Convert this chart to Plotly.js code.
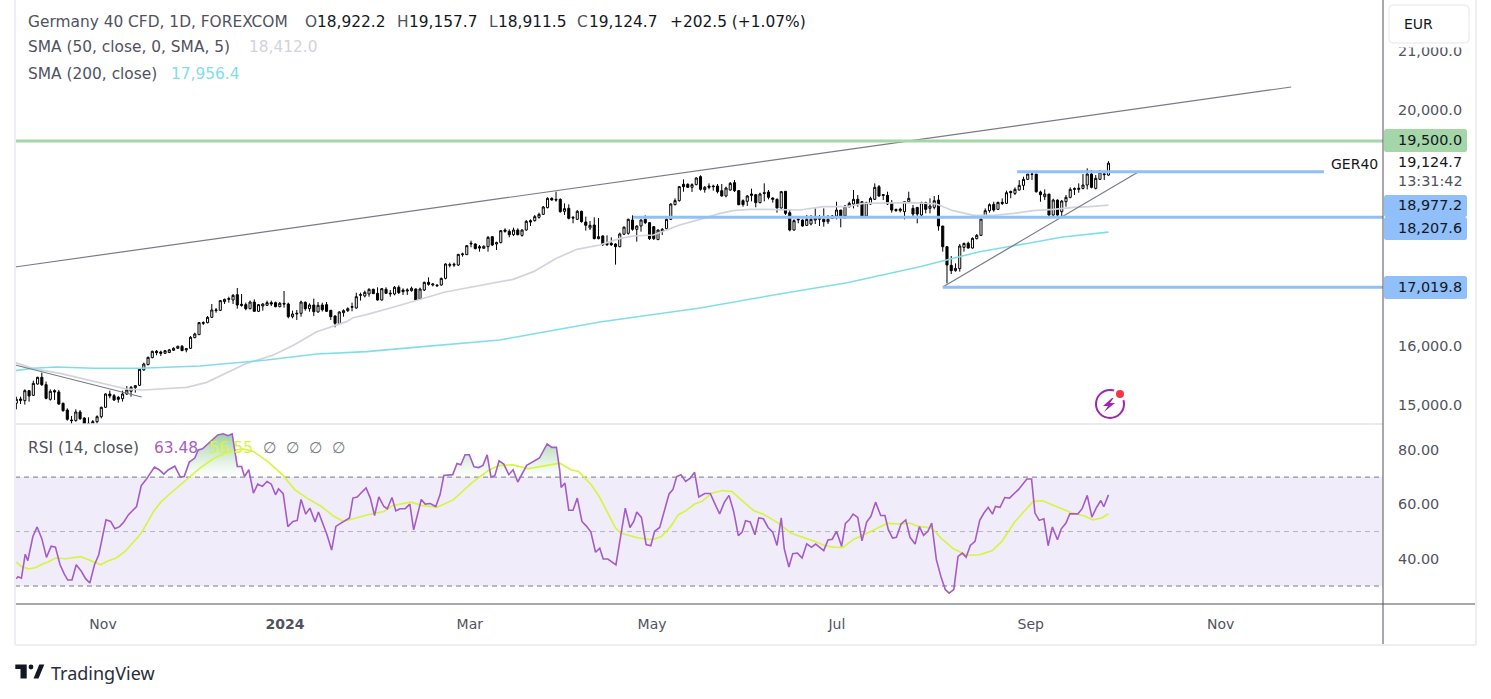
<!DOCTYPE html>
<html><head><meta charset="utf-8">
<script src="https://cdn.plot.ly/plotly-3.0.1.min.js"></script>
<style>html,body{margin:0;padding:0;background:#fff}#c{width:1491px;height:699px}</style>
</head><body><div id="c"></div>
<script>
// ---- candles, one entry per trading bar ----
const dirs = ("UDUDUUDDUD DDDDUDDDUU UUDDDUUUUU UUUDDU U UUDUUUUUUU UUUUUDDDUD UUUDDUDDUU UDUDU D DDDUUUUUU UUDDUDUUD " +
 "DUUDUUDUDU UUUUUUU DDUUDUUDDUDUUDUUUUDDDUDDUDDUDUDDDDU U UDUUDDDUUUUUUDDUUDUDDDDUUDDDUDDUDDDDUDDUU " +
 "DUUUUDUUUDUUUDDUUUDDDDD U UUDDUDUUDDDDUUUDUUUUUDUDUDUUUUUDDUDUDUUUUUUUDUUUU").replace(/\s/g,"");
const highs = [15167,15167,15291,15280,15438,15505,15573,15421,15291,15291,
15280,15065,14969,14839,14952,14940,14816,14816,14771,14850,
14997,15223,15268,15212,15178,15268,15347,15347,15364,15647,
15743,15844,15946,15958,15946,15958,15975,16003,16031,16042,
15991,16195,16251,16432,16443,16534,16737,16669,16805,16828,
16861,16907,17008,16907,16760,16794,16816,16737,16749,16794,
16794,16777,16771,16958,16760,16624,16636,16794,16782,16749,
16828,16771,16760,16771,16636,16545,16613,16647,16681,16760,
16929,16929,16963,17003,16997,17020,17008,17020,16975,17042,17053,
17003,17003,17031,17003,17014,17116,17189,17087,17070,17183,
17427,17438,17438,17585,17607,17737,17811,17766,17737,17732,
17890,17890,17794,17991,18020,18003,18031,18020,18003,18161,
18172,18246,18285,18398,18545,18545,18641,18528,18444,18427,
18229,18330,18319,18218,18144,18206,18195,17901,17901,17867,
17766,17946,18050,
18184,18240,18071,18172,18240,18127,18059,18003,18025,18189,
18444,18528,18737,18850,18782,18782,18884,18918,18737,18782,
18760,18771,18771,18726,18805,18839,18669,18511,18585,18692,
18602,18624,18782,18669,18545,18528,18653,18653,18342,18172,18206,
18172,18245,18245,18358,18245,18358,18245,18245,18471,18330,
18415,18471,18669,18584,18471,18471,18556,18782,18754,18601,
18641,18499,18353,18370,18471,18641,18415,18375,18471,18471,
18528,18567,18584,18059,17720,17550,17426,17754,17776,17793,
17867,17923,18189,18358,18443,18471,18471,18528,18658,18658,
18714,18838,18895,18940,18963,18940,18658,18680,18601,18522,
18511,18499,18584,18714,18714,18782,18940,19036,19008,18923,
19008,18997,19157.7];
const tops = [15121,15127,15268,15268,15392,15494,15494,15370,15257,15268,
15246,15054,14940,14771,14907,14907,14805,14715,14743,14827,
14986,15212,15212,15183,15155,15212,15280,15325,15353,15630,
15720,15833,15935,15935,15924,15946,15960,15986,16020,16020,
15980,16172,16229,16421,16421,16511,16636,16636,16794,16816,
16828,16884,16895,16732,16726,16771,16771,16726,16737,16760,
16760,16760,16749,16749,16737,16568,16579,16771,16765,16720,
16720,16715,16720,16726,16630,16534,16602,16624,16658,16692,
16861,16895,16935,16986,16986,16918,16997,16986,16918,17020,17020,
16974,16974,17003,16991,16991,17104,17104,17076,17059,17172,
17415,17404,17410,17579,17585,17726,17766,17754,17709,17715,
17867,17878,17777,17980,17991,17969,17991,17991,17991,18138,
18150,18218,18257,18381,18528,18528,18511,18511,18353,18359,
18206,18308,18308,18127,18071,18076,17878,17890,17766,17766,
17754,17924,18040,
18172,18161,18059,18161,18172,18116,18048,17991,18003,18172,
18432,18489,18726,18766,18766,18760,18873,18896,18715,18737,
18737,18737,18658,18703,18782,18794,18658,18489,18568,18602,
18590,18602,18624,18636,18534,18511,18641,18647,18285,18150,18172,
18160,18172,18172,18189,18189,18172,18172,18228,18330,18330,
18398,18443,18511,18511,18471,18454,18528,18714,18725,18590,
18579,18454,18341,18345,18471,18528,18358,18375,18454,18454,
18398,18488,18499,18059,17708,17392,17341,17720,17765,17765,
17850,17901,18177,18319,18420,18426,18460,18460,18624,18646,
18680,18748,18850,18940,18940,18940,18635,18601,18601,18499,
18499,18482,18545,18680,18692,18697,18754,18940,18940,18867,
18974,18940,19124.7];
const bottoms = [15054,15104,15099,15178,15189,15381,15370,15138,15121,15246,
15042,14929,14782,14760,14760,14794,14703,14698,14698,14743,
14827,14986,15178,15110,15121,15133,15212,15257,15319,15359,
15619,15709,15828,15912,15901,15901,15915,15952,15986,15946,
15958,15986,16167,16217,16409,16421,16511,16624,16630,16777,
16816,16805,16720,16715,16658,16658,16613,16613,16703,16715,
16737,16692,16692,16737,16522,16522,16568,16579,16658,16658,
16607,16602,16640,16613,16522,16409,16404,16590,16624,16681,
16669,16884,16873,16907,16912,16805,16805,16918,16907,16907,16929,
16946,16957,16963,16805,16822,16974,17070,17059,17048,17059,
17172,17393,17395,17398,17573,17573,17754,17675,17686,17681,
17709,17737,17754,17777,17969,17912,17912,17912,17901,17991,
18127,18150,18206,18257,18370,18500,18500,18302,18308,18189,
18195,18172,18133,18071,18025,17845,17845,17743,17743,17743,
17709,17709,17920,
17935,18003,18003,18059,18116,17845,17845,17828,17969,18014,
18172,18421,18489,18726,18715,18715,18760,18681,18675,18715,
18726,18641,18568,18568,18669,18658,18421,18421,18477,18579,
18455,18455,18613,18545,18511,18364,18364,18274,17991,17991,18161,
18059,18070,18093,18160,18172,18132,18132,18189,18228,18228,
18228,18386,18432,18432,18228,18228,18432,18511,18567,18579,
18432,18330,18319,18320,18302,18471,18262,18262,18245,18341,
18358,18375,18059,17708,17398,17302,17302,17336,17697,17686,
17686,17844,17901,18228,18319,18330,18341,18443,18443,18624,
18612,18669,18748,18850,18935,18641,18590,18556,18245,18245,
18245,18302,18471,18545,18680,18680,18697,18754,18714,18697,
18850,18929,18922.2];
const lows = [14952,15042,15031,15082,15178,15370,15347,15121,15099,15110,
15025,14912,14760,14698,14743,14771,14690,14660,14660,14686,
14799,14974,15138,15093,15065,15082,15195,15167,15234,15347,
15607,15698,15816,15867,15856,15890,15905,15941,15975,15941,
15918,15975,16155,16212,16381,16409,16500,16590,16618,16737,
16760,16737,16658,16692,16630,16647,16602,16602,16624,16703,
16703,16681,16681,16675,16494,16494,16466,16522,16624,16607,
16534,16590,16610,16602,16466,16342,16398,16522,16602,16613,
16658,16794,16850,16861,16907,16794,16794,16907,16861,16884,16907,
16890,16890,16946,16788,16805,16957,17048,17036,17025,17048,
17155,17359,17365,17381,17540,17568,17698,17664,17624,17675,
17624,17720,17652,17766,17946,17867,17890,17901,17878,17980,
18059,18133,18184,18246,18359,18489,18472,18285,18246,18172,
18105,18161,18116,17980,17991,17833,17833,17720,17720,17720,
17404,17698,17905,
17912,17980,17794,17963,18093,17822,17822,17822,17907,18003,
18161,18410,18472,18641,18703,18636,18749,18658,18624,18681,
18658,18613,18557,18545,18658,18636,18410,18387,18398,18477,
18376,18444,18477,18511,18455,18285,18353,18246,17969,17980,18105,
18048,18059,18070,18093,18059,18048,18093,18183,18172,18036,
18183,18375,18358,18386,18217,18217,18415,18500,18556,18499,
18415,18285,18302,18290,18172,18454,18217,18104,18217,18273,
18273,18341,17980,17624,17087,17245,17285,17285,17624,17675,
17675,17833,17889,18217,18285,18302,18330,18415,18432,18528,
18584,18658,18669,18838,18838,18624,18471,18499,18228,18217,
18217,18228,18386,18528,18584,18624,18680,18680,18697,18680,
18838,18838,18911.5];
const barDays = highs.map((_,i)=>i);
if (dirs.length!==highs.length||tops.length!==highs.length||bottoms.length!==highs.length||lows.length!==highs.length)
  throw new Error("len "+[dirs.length,highs.length,tops.length,bottoms.length,lows.length]);
const opens  = tops.map((t,i)=>dirs[i]==="U"?bottoms[i]:t);
const closes = tops.map((t,i)=>dirs[i]==="U"?t:bottoms[i]);

// ---- moving averages (bar number, price) ----
const sma50Days = [-0.3,4,10.3,15.7,21.3,25.9,29.9,35.3,40.1,44.8,49.5,54.2,60.5,65.2,70.7,77.7,79.2,82.4,90.3,100.9,116.9,121.7,127.1,131.9,137.3,142.1,145.2,149.9,153,156.1,160.9,165.6,168.7,172.6,176.5,184.4,189.9,195.4,199.3,204.8,211.1,216.5,220.4,225.3,230,234.7,239.3,244,248.8,252.6,257];
const sma50Vals = [15743,15641,15562,15472,15376,15296,15279,15302,15325,15409,15573,15731,15873,16037,16268,16438,16505,16556,16715,16941,17155,17285,17511,17664,17737,17850,17890,17907,17991,18076,18172,18274,18319,18342,18342,18330,18386,18386,18443,18454,18454,18432,18319,18240,18240,18273,18319,18341,18375,18386,18412];
const sma200Days = [-0.3,4,9.5,18.2,29.1,43.2,51.1,58.9,70.7,82.4,90.3,113.8,137.3,160.9,179.6,195.5,212.6,218,226.7,238.5,246.2,257];
const sma200Vals = [15607,15647,15669,15647,15647,15686,15737,15788,15890,15929,15980,16127,16432,16670,16907,17098,17370,17471,17624,17771,17873,17956];

// ---- drawn lines on the price pane ----
const longTrendDays=[-0.3,300], longTrendVals=[17364,20415];
const riseTrendDays=[218,264.4], riseTrendVals=[17025,18992];
const fallTrendDays=[-0.3,29.5], fallTrendVals=[15703,15161];
const resistance=19500, level1=18977.2, level2=18207.6, level3=17019.8;
const level1Days=[235.5,307.7], level2Days=[145.1,321.6], level3Days=[218,321.6], resistanceDays=[-0.31,321.6];

// ---- RSI ----
const rsiDays=[0,0.4,1.2,2.1,2.7,3.9,4.9,6,7.1,8.2,9.2,10.3,11.3,12.1,13.1,14.1,15.3,16.3,17.3,18.4,19.4,21.1,22.2,23.2,24.3,25.3,26.4,28.3,29.4,30.5,32.5,33.6,34.7,35.8,37.3,38.6,39.5,40.7,42,42.8,43.8,44.9,47.4,48.7,49.8,50.8,52,53,53.7,54.7,55.8,56.8,57.9,59,60,61,61.7,62.8,63.9,65.1,66.1,67,68.1,69.1,70.3,71.1,73.1,74.2,75.2,76.4,77.3,78.4,79.2,80.2,82.3,83.3,84.3,85.3,86.5,87.3,88.4,89.3,90.3,91.5,92.6,93.5,95.3,96.2,97.4,98.7,99.7,100.6,102.7,103.7,104.6,105.6,106.6,107.7,108.8,109.8,110.8,111.7,112.6,113.6,114.7,115.9,116.9,118,120.1,122.2,123.1,124.9,126,127.1,
127.9,128.2,129.1,130,131,132,133.1,134.2,135.2,136.3,137.3,138.1,139.2,141.1,142.3,143.3,144.4,145.3,146,147.1,148.2,149.3,150.2,151.4,153.6,154.5,155.4,156.4,157.5,158.6,159.6,160.6,162,163.3,164.5,165.5,166.6,167.7,168.8,169.9,170.8,171.6,172.7,173.8,174.7,175.8,176.9,178,179,180,180.7,181.8,182.7,183.8,184.9,186,187.1,188.1,190,191,192,193,194.2,195.1,196,196.9,198,199,200.1,201.1,202.2,203.4,204.4,205.2,206.2,207.1,208.2,209.3,210.3,211.5,212.5,213.5,214.5,215.4,216.5,217.6,218.6,219.5,220.6,221.6,222.6,223.5,224.5,225.6,226.7,227.7,228.7,229.7,230.4,231.5,232.6,233.7,235.8,237.8,238.9,239.7,240.7,241.8,242.8,243.8,245,245.9,247,247.9,249.8,250.8,252,253.1,254.1,255.2,255.9,257];
const rsiVals=[32.7,33.4,32.9,41.7,39.3,48.2,51.7,47.4,40.5,44.6,44.3,37.8,34.4,32.2,32.2,37.8,35.4,32.7,31.1,37.8,41.5,54.3,53.7,51,51.8,53.5,56.2,59.2,66.9,69,73.7,72.7,71.1,72.7,74,70,70.2,75.5,77,80,80.4,81.9,85.5,85.9,85.2,85.9,73.9,73.9,70.2,72.7,64.1,67.4,66.6,68.4,67.4,63.5,65.7,63.9,51.8,53.7,54.1,61.8,56.4,58.6,53.5,57.2,48.8,43.2,51.9,53.1,54,55,62.3,62.7,66,62.3,55.9,62.7,59.2,58.4,62.5,57.6,58.4,58.4,60.1,50.6,61.8,60.1,60.3,59.2,63.5,70.6,70.9,75,74.5,78.2,78.2,73.8,73.5,74.3,78.2,70,70.5,76,74.8,70.9,72.7,68.2,74.3,76.4,77,82.2,80.9,80.9,
72.1,66.2,67.8,57.8,57.8,62.3,53.7,51.9,49.8,42.4,43.9,39.9,39.9,37.8,50.1,58.6,51.5,53.7,57.2,55.2,45.2,44.8,50.1,51.5,63.8,65.4,70.2,70.9,68.4,69.6,71.8,62.7,64,64,59.8,56.5,60.7,63.3,57.4,48.5,49.8,54,53.5,48.8,55,54.7,51.5,49.8,44.9,55,43.7,37,41.9,42.1,40.3,45.5,44.2,45.4,43,46.9,47.2,50.1,44.6,53,54.3,56.4,55.2,46.6,53.5,55.6,60.8,55.9,55.9,50.7,47.6,47.9,52.8,54.3,47.9,45.4,51.8,48.6,50.1,53.1,39.7,33.3,28.7,27.4,28.7,40.9,42.1,40.6,44.9,46.4,54.1,56.8,58.9,56.4,59.2,58.9,62.5,62.3,65.4,69.3,69.3,56.8,54.1,54.7,44.8,51.7,47,51,53.1,56.5,56.5,58.4,63.3,55.3,58.6,61.4,59.1,63.48];
const rsiMaDays=[0,1.2,2.9,4.6,6.3,7.5,9.2,11.7,15.1,18,19.9,21.4,23.5,25.6,29.4,32.3,34,36.1,38.2,40.7,43.2,46.6,50,53.3,55.8,59.2,62.6,65.5,68.4,71.8,74.7,77,80.2,82.7,86.5,88.6,92.8,95.7,99.1,102.9,107.1,111.3,113.8,116.8,120.5,123.9,127.9,130.5,132.3,135.3,137.3,138.8,141,142.3,146.2,149.7,151.8,154,155.8,157.5,159.7,161.4,163.6,166.2,168.4,171.4,173.6,175.8,179.3,182.3,188,190.1,192.3,194.5,197.1,201.9,204.9,208,210.2,212.3,215.4,217.6,220.6,223.7,226.7,229.7,231.9,235,237.1,239.3,241.5,243.7,248,251.5,253.3,255.4,257];
const rsiMaVals=[38.8,37.2,36.3,36.8,38.2,38.8,40.3,40,40.8,39.1,37.8,39.1,40.3,42.7,49.4,57.4,60.8,63.8,66.6,69.9,73.3,77,79.4,80.4,79.4,75.7,70.9,65.4,62.3,59.2,55.6,53.7,55,56.2,57.4,59.6,60.8,59.5,59,61.7,67.8,72.7,74.3,74.5,73.1,74,75.1,72.7,72.1,67.2,62.5,58,51.3,49.4,47.7,47,48.2,51.9,56.2,57.6,60.2,61.1,64.1,65.1,64.7,60.5,57.6,56.4,53.1,49.4,46.4,44.9,44.3,44.2,47.2,50.7,53,52.8,53.1,51.9,51.3,47.6,43.6,41.3,41.5,43,46.4,53.7,57.4,61.1,61.3,59.8,57.1,55.6,54.3,55,56.55];

// ---- axis labels ----
const priceTicks=[21000,20000,16000,15000], priceLabels=["21,000.0","20,000.0","16,000.0","15,000.0"];
const rsiTicks=[80,60,40], rsiLabels=["80.00","60.00","40.00"];
const dayTicks=[20.4,63.2,106.7,149.6,193.1,238.7,283.4], dayLabels=["Nov","<b>2024</b>","Mar","May","Jul","Sep","Nov"];

const W=1491,H=699, FONT='"DejaVu Sans", sans-serif', FONT2='"Noto Sans", sans-serif';
const GREY='#50535e', BLUE='#90bff9', GREEN='#a5d6a7';
const LEG=15.4, SCALE=14.4;
const px=x=>x/W, py=y=>1-y/H;
function ln(x,y,color,width,yaxis,dash){return {type:'scatter',mode:'lines',x,y,yaxis:yaxis||'y',xaxis:'x',hoverinfo:'skip',showlegend:false,line:{color,width,dash:dash||'solid',shape:'linear'}};}

const rsiOver=rsiVals.map(v=>Math.max(v,70));
const traces=[
 {type:'candlestick',x:barDays,open:opens,high:highs,low:lows,close:closes,xaxis:'x',yaxis:'y',showlegend:false,hoverinfo:'skip',whiskerwidth:0,
  increasing:{line:{color:'#000',width:1},fillcolor:'#fff'},decreasing:{line:{color:'#000',width:1},fillcolor:'#000'}},
 ln(sma50Days,sma50Vals,'#d1d4dc',1.7),
 ln(sma200Days,sma200Vals,'#80deea',1.6),
 ln(longTrendDays,longTrendVals,'#787b86',1.2),
 ln(riseTrendDays,riseTrendVals,'#787b86',1.2),
 ln(fallTrendDays,fallTrendVals,'#787b86',1.2),
 ln(resistanceDays,[resistance,resistance],GREEN,3),
 ln(level1Days,[level1,level1],BLUE,3),
 ln(level2Days,[level2,level2],BLUE,3),
 ln(level3Days,[level3,level3],BLUE,3),
 {type:'scatter',mode:'lines',x:rsiDays,y:rsiDays.map(()=>70),xaxis:'x',yaxis:'y2',line:{width:0},hoverinfo:'skip',showlegend:false},
 {type:'scatter',mode:'lines',x:rsiDays,y:rsiOver,xaxis:'x',yaxis:'y2',line:{width:0},fill:'tonexty',hoverinfo:'skip',showlegend:false,
  fillgradient:{type:'vertical',start:87,stop:70,colorscale:[[0,'rgba(130,195,140,0.85)'],[1,'rgba(165,214,167,0)']]}},
 ln(rsiMaDays,rsiMaVals,'#d6f53c',1.6,'y2'),
 ln(rsiDays,rsiVals,'#a45cc8',1.6,'y2')
];

function T(text,x,y,color,size,family){return {text,x:px(x),y:py(y),xref:'paper',yref:'paper',xanchor:'left',yanchor:'middle',showarrow:false,align:'left',borderpad:0,font:{family:family||FONT,size:size||LEG,color}};}
const annotations=[
 T('Germany 40 CFD, 1D, FOREXCOM',27,22,GREY),
 T('O',304,22,GREY),T('18,922.2',316,22,'#131722'),
 T('H',396,22,GREY),T('19,157.7',408,22,'#131722'),
 T('L',488,22,GREY),T('18,911.5',497,22,'#131722'),
 T('C',576,22,GREY),T('19,124.7',588,22,'#131722'),
 T('+202.5 (+1.07%)',669,22,'#131722'),
 T('SMA (50, close, 0, SMA, 5)',27,47,GREY),T('18,412.0',248,47,'#d1d4dc'),
 T('SMA (200, close)',27,74,GREY),T('17,956.4',170,74,'#80deea'),
 T('RSI (14, close)',27,448,GREY),T('63.48',153,448,'#a45cc8'),T('56.55',208,448,'#d6f53c'),
 T('∅',262,448,'#787b86'),T('∅',285,448,'#787b86'),T('∅',308,448,'#787b86'),T('∅',331,448,'#787b86'),
 T('GER40',1330,164,'#131722',14),
 T('19,500.0',1397,140,'#131722',SCALE),T('19,124.7',1397,162,'#131722',SCALE),T('13:31:42',1397,181,GREY,SCALE),
 T('18,977.2',1397,205,'#131722',SCALE),T('18,207.6',1397,228,'#131722',SCALE),T('17,019.8',1397,287,'#131722',SCALE),
 T('EUR',1403,24,'#131722',14),
 T('TradingView',50,673,'#2a2e39',18,FONT2)
];

function round(x0,y0,x1,y1,r,fill,lineColor,lw){
 const p=(x,y)=>px(x)+','+py(y);
 const path='M'+p(x0+r,y0)+'L'+p(x1-r,y0)+'Q'+p(x1,y0)+' '+p(x1,y0+r)+'L'+p(x1,y1-r)+'Q'+p(x1,y1)+' '+p(x1-r,y1)+'L'+p(x0+r,y1)+'Q'+p(x0,y1)+' '+p(x0,y1-r)+'L'+p(x0,y0+r)+'Q'+p(x0,y0)+' '+p(x0+r,y0)+'Z';
 return {type:'path',xref:'paper',yref:'paper',path,fillcolor:fill,line:{color:lineColor||fill,width:lw||0},layer:'above'};
}
function rect(x0,y0,x1,y1,fill,layer){return {type:'rect',xref:'paper',yref:'paper',x0:px(x0),x1:px(x1),y0:py(y0),y1:py(y1),fillcolor:fill,line:{width:0},layer:layer||'above'};}
function seg(x0,y0,x1,y1,color,width,dash,layer){return {type:'line',xref:'paper',yref:'paper',x0:px(x0),x1:px(x1),y0:py(y0),y1:py(y1),line:{color,width,dash:dash||'solid'},layer:layer||'above'};}
function circle(cx,cy,r,fill,lineColor,lw){return {type:'circle',xref:'paper',yref:'paper',x0:px(cx-r),x1:px(cx+r),y0:py(cy-r),y1:py(cy+r),fillcolor:fill,line:{color:lineColor||fill,width:lw||0},layer:'above'};}
function poly(pts,fill){return {type:'path',xref:'paper',yref:'paper',path:'M'+pts.map(p=>px(p[0])+','+py(p[1])).join('L')+'Z',fillcolor:fill,line:{width:0},layer:'above'};}
function hlevel(v,color,dash){return {type:'line',xref:'paper',x0:px(15),x1:px(1383),yref:'y2',y0:v,y1:v,line:{color,width:1,dash},layer:'below'};}

const shapes=[
 {type:'rect',xref:'paper',x0:px(15),x1:px(1383),yref:'y2',y0:30,y1:70,fillcolor:'#f0ecf9',line:{width:0},layer:'below'},
 hlevel(70,'#787b86','5px,4px'),hlevel(50,'#b2b5be','5px,4px'),hlevel(30,'#787b86','5px,4px'),
 seg(15,424,1383,424,'#e0e3eb',1.5),
 seg(1383,0,1383,645,'#50535e',1),
 seg(15,604,1476,604,'#50535e',1),
 seg(15,0,15,645,'#eeeef5',2),
 seg(1476,0,1476,645,'#eeeef5',2),
 seg(15,645,1476,645,'#eeeef5',2),
 rect(1384,0,1475,47.5,'#fff'),
 round(1389,5,1469,43,5,'#fff','#eeeef5',1.5),
 round(1384,129,1467,152,2.5,GREEN),
 round(1384,195,1467,217,2.5,BLUE),round(1384,217,1467,240,2.5,BLUE),round(1384,276,1467,299,2.5,BLUE),
 // lightning badge
 circle(1110,404,14,'#fff','#9c27b0',2),
 circle(1120,394,7,'#fff'),circle(1120,394,4,'#f23645'),
 poly([[1112,398],[1103,406],[1108,406],[1104,412],[1115,403],[1110,403],[1113.5,398]],'#9c27b0'),
 // logo
 poly([[15.3,664.5],[26.7,664.5],[26.7,678.5],[20.5,678.5],[20.5,669],[15.3,669]],'#131722'),
 circle(31,667,2.4,'#131722'),
 poly([[33.5,678.5],[39.3,664.5],[44.3,664.5],[38.5,678.5]],'#131722')
];

Plotly.newPlot('c',traces,{
 width:W,height:H,margin:{l:0,r:0,t:0,b:0,pad:0},paper_bgcolor:'#fff',plot_bgcolor:'rgba(0,0,0,0)',showlegend:false,hovermode:false,
 font:{family:FONT,size:14,color:GREY},
 xaxis:{domain:[px(15),px(1383)],range:[-0.31,321.6],anchor:'y2',type:'linear',rangeslider:{visible:false},showgrid:false,zeroline:false,showline:false,
  tickmode:'array',tickvals:dayTicks,ticktext:dayLabels,ticks:'',ticklabelstandoff:10,tickfont:{family:FONT,size:14,color:GREY},automargin:false},
 yaxis:{domain:[py(424),1],range:[14703,21890],side:'right',anchor:'x',showgrid:false,zeroline:false,showline:false,tickmode:'array',tickvals:priceTicks,ticktext:priceLabels,ticks:'',ticklabelstandoff:14,ticklabelshift:-2,tickfont:{family:FONT,size:SCALE,color:GREY},automargin:false},
 yaxis2:{domain:[py(604),py(424)],range:[23.4,89.5],side:'right',anchor:'x',showgrid:false,zeroline:false,showline:false,tickmode:'array',tickvals:rsiTicks,ticktext:rsiLabels,ticks:'',ticklabelstandoff:14,tickfont:{family:FONT,size:SCALE,color:GREY},automargin:false},
 annotations,shapes
},{displayModeBar:false,staticPlot:true});
</script></body></html>
